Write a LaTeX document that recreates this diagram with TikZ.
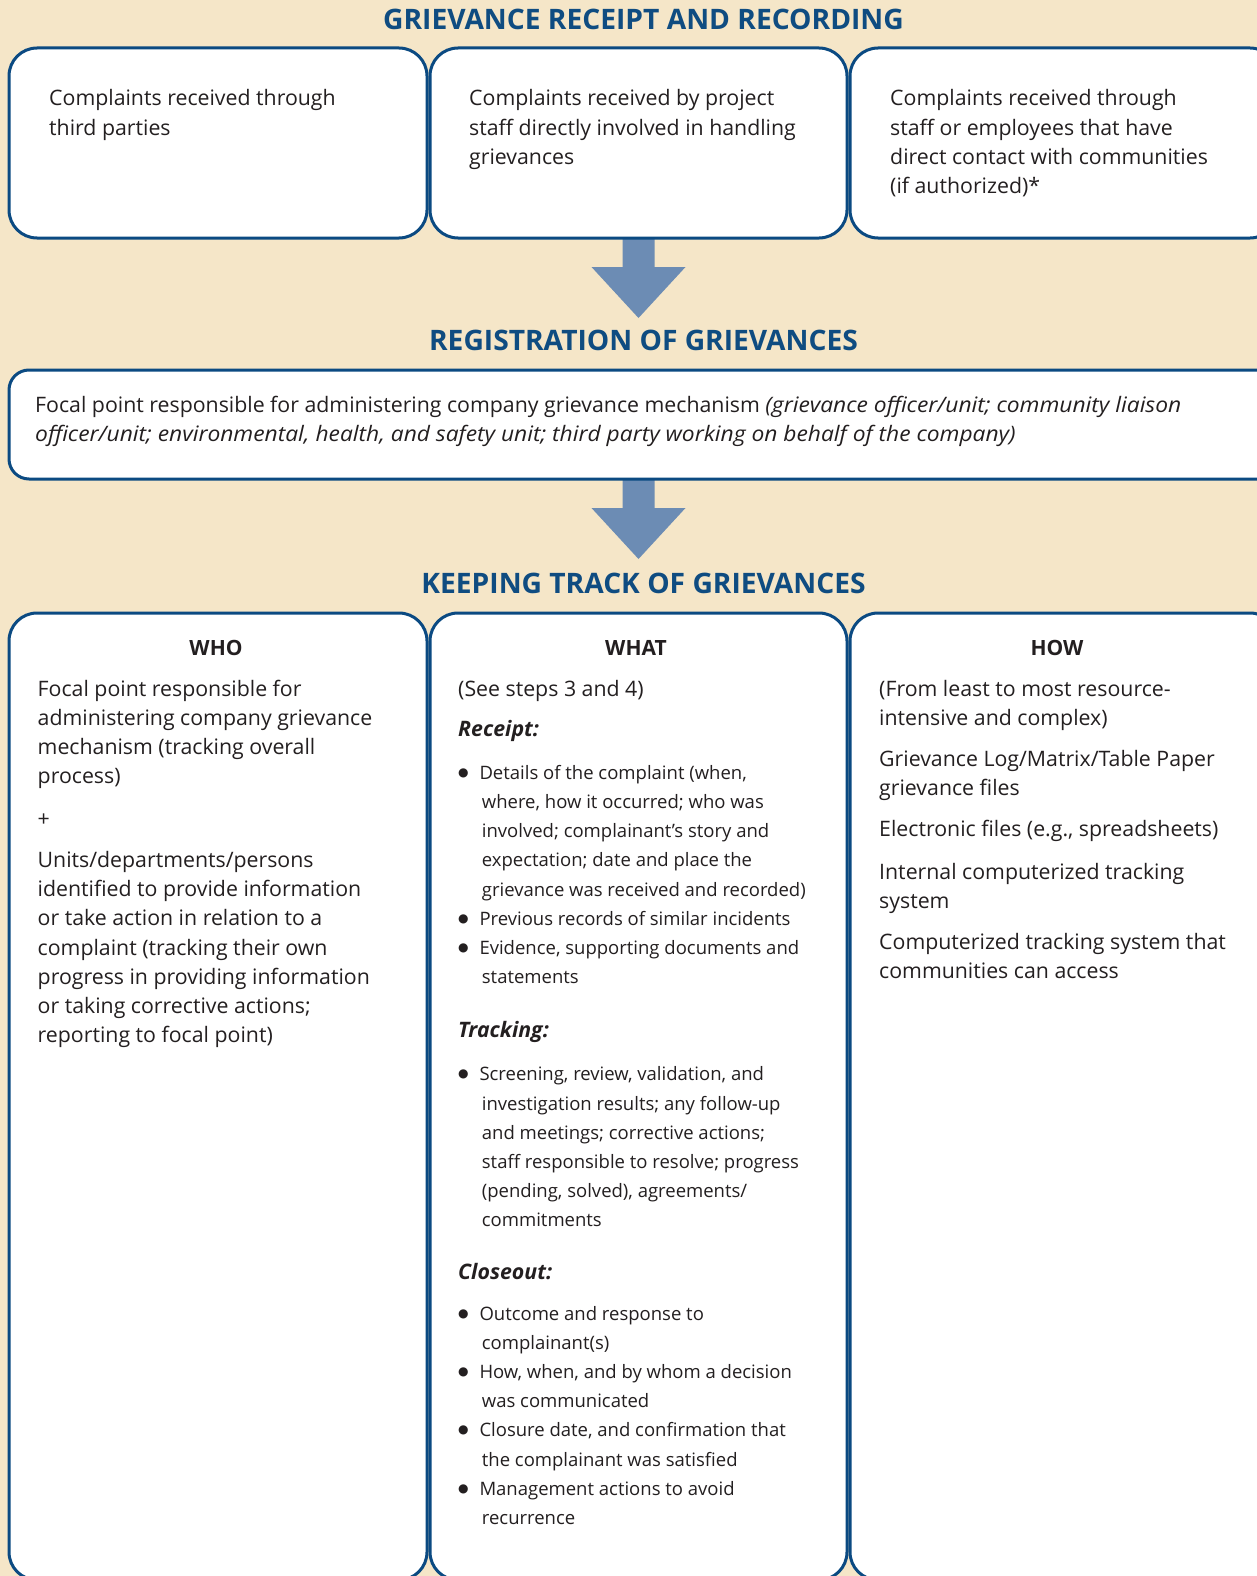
\documentclass[tikz,border=0pt]{standalone}
\usepackage{fontspec}
\setmainfont{Open Sans}
\newfontfamily\dvs{DejaVu Sans}
\usetikzlibrary{calc}
\definecolor{bg}{HTML}{F5E6C8}
\definecolor{bord}{HTML}{0B4A82}
\definecolor{ttl}{HTML}{0F4C81}
\definecolor{arr}{HTML}{6C8CB4}
\definecolor{txt}{HTML}{231F20}
\newcommand\blk[1]{\parbox[t]{1250pt}{\fontsize{21.3}{29.2}\selectfont\raggedright #1}}
\newcommand\lst[1]{\parbox[t]{500pt}{\fontsize{18.5}{29.2}\selectfont\raggedright #1}}
\newcommand\bul{\leavevmode\llap{\raisebox{3pt}{\dvs\fontsize{12}{12}\selectfont ●}\hspace{10.9pt}}}
\newcommand\cnt{\hspace*{2.4pt}}
\newcommand\itw[1]{\scalebox{1.07}[1]{\itshape #1}}
\newcommand\blockarrow[1]{\fill[arr] ($(#1)+(-16,-2)$) -- ($(#1)+(16,-2)$) -- ($(#1)+(16,29)$) -- ($(#1)+(47,29)$) -- ($(#1)+(0,80)$) -- ($(#1)+(-47,29)$) -- ($(#1)+(-16,29)$) -- cycle;}
\begin{document}
\begin{tikzpicture}[x=1pt,y=-1pt,
  box/.style={draw=bord, line width=3pt, fill=white, inner sep=0pt, rounded corners=28pt},
  ttlnode/.style={anchor=base, inner sep=0pt, text=ttl, font=\fontsize{28.2}{30}\selectfont\bfseries},
  hdr/.style={anchor=base, inner sep=0pt, text=txt, font=\fontsize{21}{24}\selectfont\bfseries},
  body/.style={anchor=base west, inner sep=0pt, text=txt},
]
\useasboundingbox (0,0) rectangle (1257,1576);
\clip (0,0) rectangle (1257,1576);
\fill[bg] (0,0) rectangle (1257,1576);

% titles
\node[ttlnode] (t1) at (643.5,29.5) {GRIEVANCE RECEIPT AND RECORDING};
\node[ttlnode] (t2) at (643.5,350) {REGISTRATION OF GRIEVANCES};
\node[ttlnode] (t3) at (643.5,593.5) {KEEPING TRACK OF GRIEVANCES};

% block arrows
\coordinate (r2s) at (638.5,238);
\coordinate (regs) at (638.5,479);
\blockarrow{r2s}
\blockarrow{regs}

% boxes
\node[box, minimum width=418pt, minimum height=190pt] (r1) at (218,143) {};
\node[box, minimum width=417pt, minimum height=190pt] (r2) at (638.5,143) {};
\node[box, minimum width=428pt, minimum height=190pt] (r3) at (1064,143) {};
\node[box, rounded corners=20pt, minimum width=1271pt, minimum height=109pt] (reg) at (644.5,424.5) {};
\node[box, minimum width=418pt, minimum height=967pt] (w1) at (218,1096.5) {};
\node[box, minimum width=417pt, minimum height=967pt] (w2) at (638.5,1096.5) {};
\node[box, minimum width=428pt, minimum height=967pt] (w3) at (1064,1096.5) {};

% top boxes text
\node[body] (r1t) at (49,106) {\blk{Complaints received through\\third parties}};
\node[body] (r2t) at (469,106) {\blk{Complaints received by project\\staff directly involved in handling\\grievances}};
\node[body] (r3t) at (890,106) {\blk{Complaints received through\\staff or employees that have\\direct contact with communities\\(if authorized)*}};

% registration text
\node[body] (regt) at (35,412.7) {\blk{Focal point responsible for administering company grievance mechanism \itw{(grievance officer/unit; community liaison}\\\itw{officer/unit; environmental, health, and safety unit; third party working on behalf of the company)}}};

% headers
\node[hdr] (hwho) at (216,655) {WHO};
\node[hdr] (hwhat) at (636,655) {WHAT};
\node[hdr] (hhow) at (1057,655) {HOW};

% WHO
\node[body] (who1) at (37.5,696) {\blk{Focal point responsible for\\administering company grievance\\mechanism (tracking overall\\process)}};
\node[body] (whop) at (37.5,826.5) {\blk{+}};
\node[body] (who2) at (37.5,867.5) {\blk{Units/departments/persons\\identified to provide information\\or take action in relation to a\\complaint (tracking their own\\progress in providing information\\or taking corrective actions;\\reporting to focal point)}};

% WHAT
\node[body] (wh0) at (458,696) {\blk{(See steps 3 and 4)}};
\node[body] (whr) at (458,736.7) {\blk{\textbf{\textit{Receipt:}}}};
\node[body] (whrl) at (479.3,779.3) {\lst{\bul Details of the complaint (when,\\
\cnt where, how it occurred; who was\\
\cnt involved; complainant’s story and\\
\cnt expectation; date and place the\\
\cnt grievance was received and recorded)\\
\bul Previous records of similar incidents\\
\bul Evidence, supporting documents and\\
\cnt statements}};
\node[body] (wht) at (458,1037.5) {\blk{\textbf{\textit{Tracking:}}}};
\node[body] (whtl) at (479.3,1080.8) {\lst{\bul Screening, review, validation, and\\
\cnt investigation results; any follow-up\\
\cnt and meetings; corrective actions;\\
\cnt staff responsible to resolve; progress\\
\cnt (pending, solved), agreements/\\
\cnt commitments}};
\node[body] (whc) at (458,1279.3) {\blk{\textbf{\textit{Closeout:}}}};
\node[body] (whcl) at (479.3,1320) {\lst{\bul Outcome and response to\\
\cnt complainant(s)\\
\bul How, when, and by whom a decision\\
\cnt was communicated\\
\bul Closure date, and confirmation that\\
\cnt the complainant was satisfied\\
\bul Management actions to avoid\\
\cnt recurrence}};

% HOW
\node[body] (how1) at (879,696) {\blk{(From least to most resource-\\intensive and complex)}};
\node[body] (how2) at (879,766.7) {\blk{Grievance Log/Matrix/Table Paper\\grievance files}};
\node[body] (how3) at (879,836.7) {\blk{Electronic files (e.g., spreadsheets)}};
\node[body] (how4) at (879,879) {\blk{Internal computerized tracking\\system}};
\node[body] (how5) at (879,949.3) {\blk{Computerized tracking system that\\communities can access}};
\end{tikzpicture}
\end{document}
